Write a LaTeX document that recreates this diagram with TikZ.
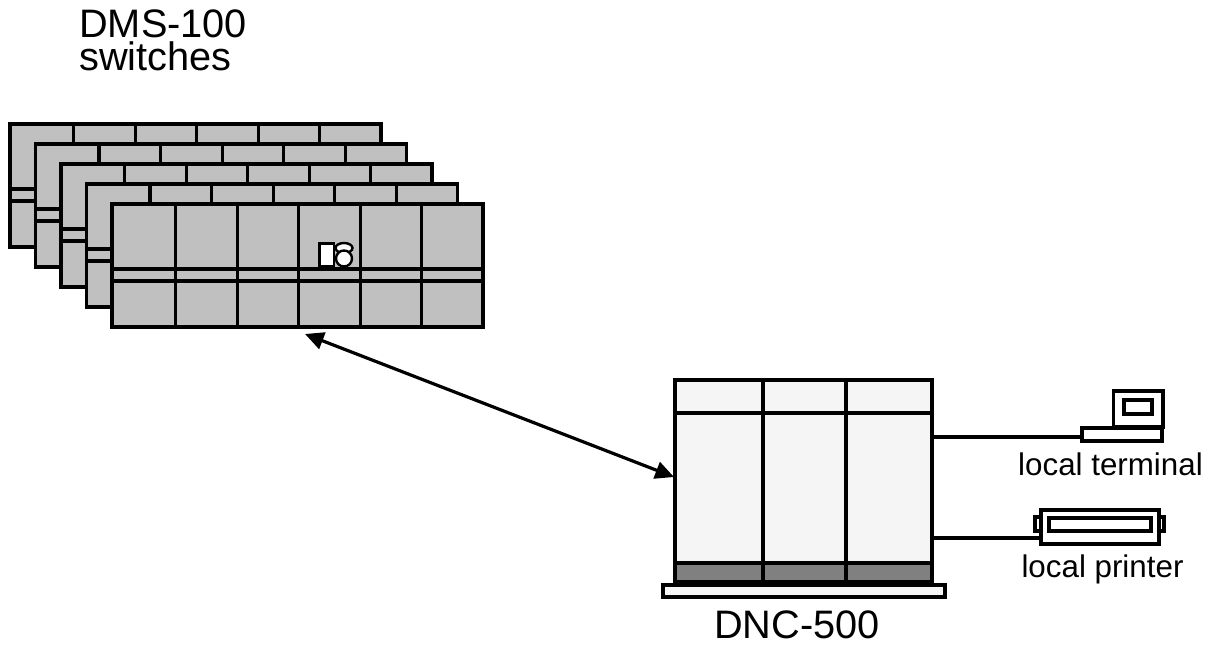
\documentclass[tikz,border=0pt]{standalone}
\usepackage{fontspec}
\setmainfont{Liberation Sans}
\usetikzlibrary{arrows.meta}
\definecolor{switchgrey}{HTML}{C0C0C0}
\definecolor{cabinet}{HTML}{F5F5F5}
\definecolor{plinth}{HTML}{808080}
\begin{document}
\begin{tikzpicture}[x=0.75pt,y=-0.75pt,
  thick line/.style={draw=black,line width=2.3pt},
  iconline/.style={draw=black,line width=1.8pt,fill=white},
  link/.style={draw=black,line width=2.4pt,{Triangle[length=14pt,width=13pt]}-{Triangle[length=14pt,width=13pt]}},
  cable/.style={draw=black,line width=2.3pt},
  biglabel/.style={font=\fontsize{29.8}{24.75}\selectfont,inner sep=0pt,anchor=base},
  smalllabel/.style={font=\fontsize{23.5}{27}\selectfont,inner sep=0pt,anchor=base}]
\useasboundingbox (0,0) rectangle (1212,647);

% stack of DMS-100 switch frames, back to front
\foreach \i in {0,...,4}{
  \pgfmathsetmacro\px{10+25.5*\i}
  \pgfmathsetmacro\py{124+20*\i}
  \begin{scope}[shift={(\px,\py)}]
    \fill[switchgrey] (0,0) rectangle (371,123);
    \foreach \c in {63.5,125.1,186.7,248.3,309.9}
      \draw[thick line] (\c,0) -- (\c,123);
    \draw[thick line] (0,65) -- (371,65) (0,77) -- (371,77);
    \draw[thick line] (0,0) rectangle (371,123);
  \end{scope}
}
% telephone symbol on the front frame
\draw[iconline] (319.5,243.5) rectangle (334,266);
\draw[iconline] (344,248) ellipse [x radius=8.5, y radius=5];
\draw[iconline] (344,258.5) circle [radius=8];

% DNC-500 cabinet
\fill[cabinet] (675,380) rectangle (932,563);
\fill[plinth] (675,563) rectangle (932,582);
\draw[thick line] (675,413) -- (932,413) (675,563) -- (932,563);
\draw[thick line] (763,380) -- (763,582) (846,380) -- (846,582);
\draw[thick line] (675,380) rectangle (932,582);
\draw[thick line,fill=cabinet] (663,585) rectangle (945,597);

% local terminal
\draw[thick line,fill=white] (1113.5,391) rectangle (1163,427);
\draw[thick line,fill=white] (1124,400) rectangle (1152,414);
\draw[thick line,fill=white] (1082,428) rectangle (1162,441);

% local printer
\draw[thick line,fill=white] (1035,517) rectangle (1164,531);
\draw[thick line,fill=white] (1041,510) rectangle (1159,544);
\draw[thick line,fill=white] (1049,518) rectangle (1151,531);

% connection points
\coordinate (swlink) at (305,334);
\coordinate (dnclink) at (674,477);
\coordinate (dncterm) at (933,437);
\coordinate (term) at (1082,437);
\coordinate (dncprn) at (933,538);
\coordinate (prn) at (1041,538);

\draw[link] (swlink) -- (dnclink);
\draw[cable] (dncterm) -- (term);
\draw[cable] (dncprn) -- (prn);

% labels
\node[biglabel,align=left,anchor=base west] (dms) at (79,70) {DMS-100\\switches};
\node[biglabel] (dnc) at (797,638) {DNC-500};
\node[smalllabel] (termlbl) at (1110.5,475) {local terminal};
\node[smalllabel] (prnlbl) at (1102.5,577) {local printer};
\end{tikzpicture}
\end{document}
